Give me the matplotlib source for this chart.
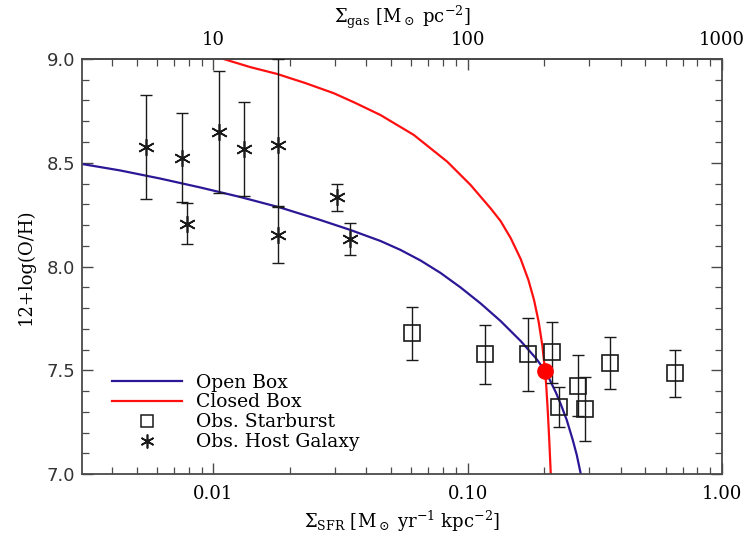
import numpy as np
import matplotlib
matplotlib.use("Agg")
import matplotlib.pyplot as plt
from matplotlib.ticker import FixedLocator, FuncFormatter, LogLocator, MultipleLocator, NullFormatter

# ---------------- data ----------------
# Open box model curve
open_x = [0.003050, 0.004304, 0.006183, 0.008888, 0.012773, 0.018357, 0.026382, 0.034632,
          0.045452, 0.054463, 0.065313, 0.078276, 0.093846, 0.112497, 0.134866, 0.161659,
          0.185267, 0.202768, 0.221953, 0.232304, 0.245359, 0.259034, 0.268569, 0.278530]
open_y = [8.494, 8.463, 8.424, 8.381, 8.335, 8.284, 8.224, 8.176,
          8.123, 8.080, 8.029, 7.969, 7.899, 7.822, 7.737, 7.641,
          7.559, 7.494, 7.395, 7.337, 7.260, 7.164, 7.092, 7.000]

# Closed box model curve
closed_x = [0.01098, 0.01398, 0.01783, 0.02302, 0.0298, 0.03623, 0.04545, 0.06145, 0.08319,
            0.1027, 0.1232, 0.1348, 0.1477, 0.1617, 0.1734, 0.1824, 0.1903, 0.1968,
            0.2009, 0.2037, 0.2065, 0.2094, 0.2123]
closed_y = [9.000, 8.961, 8.928, 8.884, 8.835, 8.788, 8.730, 8.634, 8.505,
            8.393, 8.280, 8.219, 8.137, 8.036, 7.935, 7.839, 7.733, 7.617,
            7.515, 7.429, 7.308, 7.164, 7.000]

# Observed starbursts
sb_x = [0.0602, 0.1167, 0.1734, 0.2143, 0.2288, 0.2716, 0.289, 0.362, 0.652]
sb_y = [7.678, 7.577, 7.577, 7.587, 7.324, 7.424, 7.315, 7.537, 7.485]
sb_hi = [7.806, 7.720, 7.750, 7.734, 7.420, 7.572, 7.469, 7.660, 7.598]
sb_lo = [7.548, 7.434, 7.402, 7.440, 7.228, 7.280, 7.161, 7.411, 7.373]

# Observed host galaxies
hg_x = [0.00545, 0.00753, 0.00792, 0.01056, 0.01324, 0.0179, 0.0179, 0.0307, 0.0344]
hg_y = [8.576, 8.524, 8.205, 8.647, 8.566, 8.586, 8.152, 8.333, 8.133]
hg_hi = [8.825, 8.738, 8.307, 8.942, 8.791, 9.000, 8.288, 8.396, 8.211]
hg_lo = [8.324, 8.312, 8.107, 8.353, 8.340, 8.290, 8.015, 8.269, 8.055]

# intersection point
pt_x = [0.2015]
pt_y = [7.497]

xticks_bottom = [0.01, 0.1, 1.0]
xticks_top = [10, 100, 1000]
yticks = [7.0, 7.5, 8.0, 8.5, 9.0]

# ---------------- plotting ----------------
plt.rcParams['mathtext.fontset'] = 'dejavuserif'
serif = 'DejaVu Serif'
frame_col = '#4a4a4a'

fig = plt.figure(figsize=(7.46, 5.37), dpi=100)
ax = fig.add_axes([82/746, 63/537, 640/746, 415/537])

ax.set_xscale('log')
ax.set_xlim(0.00305, 1.0)
ax.set_ylim(7.0, 9.0)

l1, = ax.plot(open_x, open_y, color='#2a1896', lw=1.6, label='Open Box', zorder=2)
l2, = ax.plot(closed_x, closed_y, color='#ff1010', lw=1.6, label='Closed Box', zorder=2)

sb_err = [np.array(sb_y) - np.array(sb_lo), np.array(sb_hi) - np.array(sb_y)]
hg_err = [np.array(hg_y) - np.array(hg_lo), np.array(hg_hi) - np.array(hg_y)]

ax.errorbar(sb_x, sb_y, yerr=sb_err, fmt='none', ecolor='#1a1a1a', elinewidth=1.0,
            capsize=4.3, capthick=1.0, zorder=3)
ax.plot(sb_x, sb_y, ls='none', marker='s', ms=11, mfc='none', mec='#1a1a1a', mew=1.2, zorder=4)
ax.errorbar(hg_x, hg_y, yerr=hg_err, fmt='none', ecolor='#1a1a1a', elinewidth=1.0,
            capsize=4.3, capthick=1.0, zorder=3)
ax.plot(hg_x, hg_y, ls='none', marker=(6, 2, 0), ms=12, mec='#1a1a1a', mew=1.2, zorder=4)
ax.plot(pt_x, pt_y, ls='none', marker='o', ms=11, color='#ff0000', zorder=5)

# legend proxies
h3, = ax.plot([], [], ls='none', marker='s', ms=9, mfc='none', mec='#1a1a1a', mew=1.1,
              label='Obs. Starburst')
h4, = ax.plot([], [], ls='none', marker=(6, 2, 0), ms=10, mec='#1a1a1a', mew=1.2,
              label='Obs. Host Galaxy')
leg = ax.legend(handles=[l1, l2, h3, h4], loc='lower left', bbox_to_anchor=(0.047, 0.055),
                frameon=False, prop={'family': serif, 'size': 13.5}, handlelength=3.75,
                handletextpad=0.7, labelspacing=0.1, borderpad=0, borderaxespad=0)

# ticks bottom
ax.xaxis.set_major_locator(FixedLocator(xticks_bottom))
ax.xaxis.set_major_formatter(FuncFormatter(lambda v, p: f"{v:.2f}"))
ax.xaxis.set_minor_locator(LogLocator(base=10, subs=np.arange(2, 10)))
ax.xaxis.set_minor_formatter(NullFormatter())
ax.yaxis.set_major_locator(FixedLocator(yticks))
ax.yaxis.set_major_formatter(FuncFormatter(lambda v, p: f"{v:.1f}"))
ax.yaxis.set_minor_locator(MultipleLocator(0.1))

ax.tick_params(axis='both', which='both', direction='in', color=frame_col)
ax.tick_params(axis='x', which='both', top=False, bottom=True)
ax.tick_params(axis='y', which='both', left=True, right=True)
ax.tick_params(which='major', length=8, width=1.0)
ax.tick_params(which='minor', length=5, width=0.9)
ax.tick_params(axis='x', labelsize=13, pad=8)
ax.tick_params(axis='y', labelsize=13, pad=5, labelcolor='#333333')
for lab in ax.get_xticklabels():
    lab.set_family(serif)

for s in ax.spines.values():
    s.set_color(frame_col)
    s.set_linewidth(1.3)

# top axis
sec = ax.secondary_xaxis('top', functions=(lambda x: x * 1000.0, lambda x: x / 1000.0))
sec.set_xscale('log')
sec.xaxis.set_major_locator(FixedLocator(xticks_top))
sec.xaxis.set_major_formatter(FuncFormatter(lambda v, p: f"{v:.0f}"))
sec.xaxis.set_minor_locator(LogLocator(base=10, subs=np.arange(2, 10)))
sec.xaxis.set_minor_formatter(NullFormatter())
sec.tick_params(which='both', direction='in', color=frame_col, labelsize=13, pad=7)
sec.tick_params(which='major', length=8, width=1.0)
sec.tick_params(which='minor', length=5, width=0.9)
for lab in sec.get_xticklabels():
    lab.set_family(serif)
sec.spines['top'].set_color(frame_col)
sec.spines['top'].set_linewidth(1.3)
sec.set_xlabel(r'$\Sigma_{\rm gas}$ [M$_\odot$ pc$^{-2}$]', family=serif, fontsize=13, labelpad=6)

ax.set_xlabel(r'$\Sigma_{\rm SFR}$ [M$_\odot$ yr$^{-1}$ kpc$^{-2}$]', family=serif, fontsize=13,
              labelpad=4)
ax.set_ylabel('12+log(O/H)', family=serif, fontsize=13, labelpad=8)

fig.savefig('out.png', dpi=100)
